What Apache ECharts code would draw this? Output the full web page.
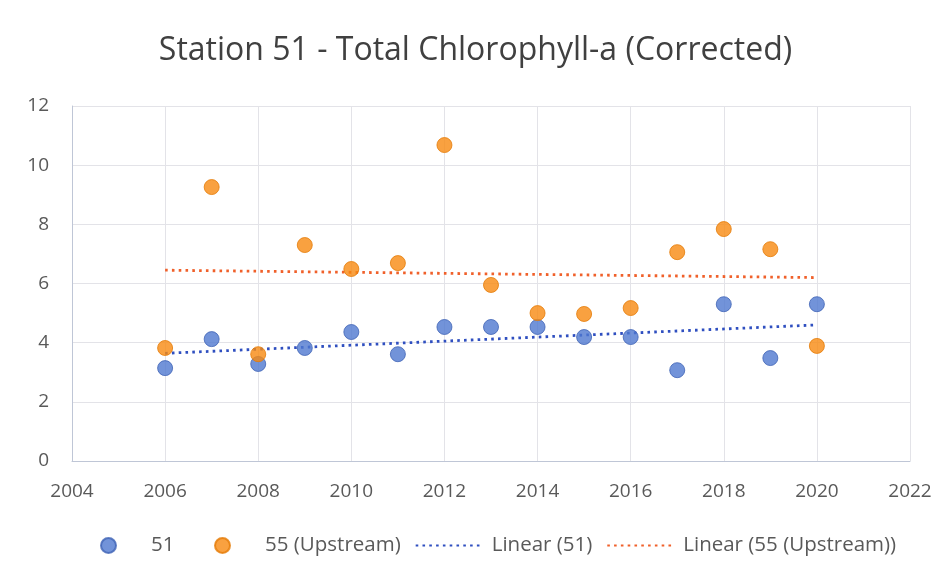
<!DOCTYPE html>
<html lang="en" style="height: 100%">
<head>
    <meta charset="UTF-8">
    <title>Station 51</title>
    <style>
        #main{
            width: 951px;
            height: 581px;
        }
    </style>
    <script src="https://cdn.jsdelivr.net/npm/echarts@6/dist/echarts.min.js"></script>
</head>
<body style="margin: 0; background: #fff">
<div id="main"></div>
<script>
    // values
    var years = [2006, 2007, 2008, 2009, 2010, 2011, 2012, 2013, 2014, 2015, 2016, 2017, 2018, 2019, 2020];
    var station51 = [3.14, 4.12, 3.28, 3.82, 4.36, 3.61, 4.53, 4.53, 4.53, 4.19, 4.19, 3.07, 5.30, 3.48, 5.30];
    var station55 = [3.82, 9.26, 3.61, 7.30, 6.49, 6.69, 10.68, 5.95, 5.00, 4.97, 5.17, 7.06, 7.84, 7.16, 3.89];
    // trendline end points (2006 and 2020) as drawn in the reference
    var trendYears = [2006, 2020];
    var trend51 = [3.64, 4.60];
    var trend55 = [6.45, 6.20];

    var chart = echarts.init(document.getElementById('main'));

    function pairs(xs, ys) {
        var out = [];
        for (var i = 0; i < xs.length; i++) {
            out.push([xs[i], ys[i]]);
        }
        return out;
    }

    var font = '"Open Sans", sans-serif';
    var blue = '#4f78cf';
    var orange = '#f88a10';

    function legendBox(left, items) {
        return {
            bottom: 20,
            left: left,
            itemGap: 14,
            itemWidth: 67,
            itemHeight: 15,
            textStyle: {
                fontFamily: font,
                fontSize: 20.5,
                color: '#595959',
                padding: [0, 0, 0, 4]
            },
            data: items
        };
    }

    var option = {
        backgroundColor: '#fff',
        animation: false,
        title: {
            text: 'Station 51 - Total Chlorophyll-a (Corrected)',
            left: 'center',
            top: 30,
            textStyle: {
                fontFamily: font,
                fontSize: 32,
                fontWeight: 'normal',
                color: '#404040'
            }
        },
        // two legend boxes so the first entry keeps its wide spacing
        legend: [
            legendBox(95, [
                {name: '51', icon: 'circle'}
            ]),
            legendBox(209, [
                {name: '55 (Upstream)', icon: 'circle'},
                {name: 'Linear (51)', itemStyle: {opacity: 0}},
                {name: 'Linear (55 (Upstream))', itemStyle: {opacity: 0}}
            ])
        ],
        grid: {
            left: 72,
            right: 41,
            top: 106,
            bottom: 120
        },
        xAxis: {
            type: 'value',
            min: 2004,
            max: 2022,
            interval: 2,
            axisLine: {lineStyle: {color: '#bfc6d6'}},
            axisTick: {show: false},
            axisLabel: {
                fontFamily: font,
                fontSize: 19,
                color: '#595959',
                margin: 21,
                formatter: function (v) { return String(v); }
            },
            splitLine: {show: true, lineStyle: {color: '#e3e3e8'}}
        },
        yAxis: {
            type: 'value',
            min: 0,
            max: 12,
            interval: 2,
            axisLine: {show: true, lineStyle: {color: '#bfc6d6'}},
            axisTick: {show: false},
            axisLabel: {
                fontFamily: font,
                fontSize: 19,
                color: '#595959',
                margin: 23
            },
            splitLine: {show: true, lineStyle: {color: '#e3e3e8'}}
        },
        series: [
            {
                name: '51',
                type: 'scatter',
                symbolSize: 15,
                itemStyle: {color: blue, borderColor: '#3f63b5', borderWidth: 1},
                data: pairs(years, station51),
                z: 3
            },
            {
                name: '55 (Upstream)',
                type: 'scatter',
                symbolSize: 15,
                itemStyle: {color: orange, borderColor: '#e57a05', borderWidth: 1},
                data: pairs(years, station55),
                z: 3
            },
            {
                name: 'Linear (51)',
                type: 'line',
                showSymbol: false,
                symbol: 'none',
                lineStyle: {color: '#2f4fc0', width: 2.8, type: [2.6, 4.2]},
                itemStyle: {color: '#2f4fc0'},
                data: pairs(trendYears, trend51),
                z: 2
            },
            {
                name: 'Linear (55 (Upstream))',
                type: 'line',
                showSymbol: false,
                symbol: 'none',
                lineStyle: {color: '#f0602a', width: 2.8, type: [2.6, 4.2]},
                itemStyle: {color: '#f0602a'},
                data: pairs(trendYears, trend55),
                z: 2
            }
        ]
    };

    chart.setOption(option);
</script>
</body>
</html>
